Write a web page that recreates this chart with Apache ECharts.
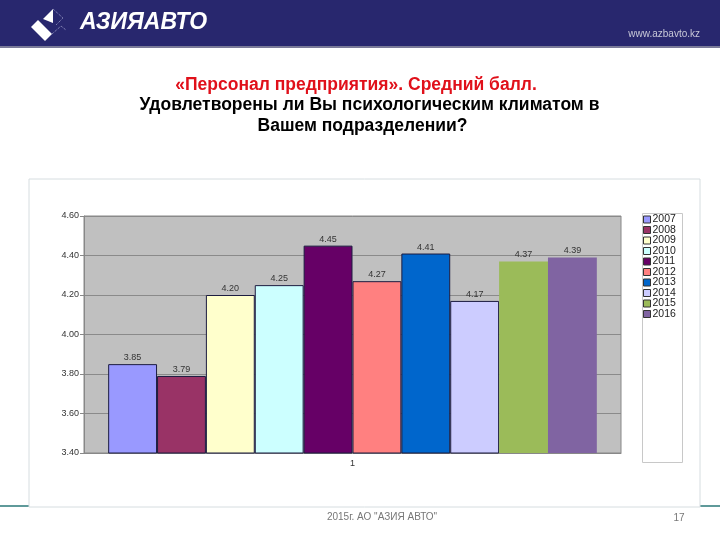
<!DOCTYPE html>
<html>
<head>
<meta charset="utf-8">
<script src="https://cdn.jsdelivr.net/npm/echarts@6/dist/echarts.min.js"></script>
<style>html,body{margin:0;padding:0;background:#fff}#c{width:720px;height:540px}</style>
</head>
<body>
<div id="c"></div>
<script>
var categories = ['1'];
var years = ['2007','2008','2009','2010','2011','2012','2013','2014','2015','2016'];
var values = [3.85, 3.79, 4.20, 4.25, 4.45, 4.27, 4.41, 4.17, 4.37, 4.39];
var colors = ['#9999ff','#993366','#ffffcc','#ccffff','#660066','#ff8080','#0066cc','#ccccff','#9bbb59','#8064a2'];
var bordered = [true,true,true,true,true,true,true,true,false,false];
var titleLines = ['«Персонал предприятия». Средний балл.','Удовлетворены ли Вы психологическим климатом в','Вашем подразделении?'];

var chart = echarts.init(document.getElementById('c'), null, {renderer:'canvas'});
var series = years.map(function(y, i){
  return {
    name: y, type: 'bar', data: [values[i]],
    barGap: '0%', barCategoryGap: '9%',
    itemStyle: {color: colors[i], borderColor: bordered[i] ? '#1c1c40' : colors[i], borderWidth: bordered[i] ? 1 : 0},
    label: {show: true, position: 'top', distance: 2, fontSize: 9, color: '#333', fontFamily: 'Liberation Sans',
      formatter: function(p){ return p.value.toFixed(2); }},
    z: 3
  };
});
var font = 'Liberation Sans';
chart.setOption({
  animation: false,
  graphic: [
    {type:'rect', shape:{x:0,y:505,width:720,height:2}, style:{fill:'#5f9a9a'}, z:-10},
    {type:'rect', shape:{x:29,y:179,width:671,height:328}, style:{fill:'#fff', stroke:'#d6dde0', lineWidth:1}, z:-5},
    {type:'rect', shape:{x:642.5,y:213.5,width:40,height:249}, style:{fill:'#fff', stroke:'#c8c8c8', lineWidth:1}, z:-4},
    {type:'rect', shape:{x:0,y:0,width:720,height:46}, style:{fill:'#28276e'}, z:-3},
    {type:'rect', shape:{x:0,y:46,width:720,height:2}, style:{fill:'#7a7a98'}, z:-3},
    {type:'polygon', shape:{points:[[43,19],[53,9],[53,23]]}, style:{fill:'#fff'}, z:-2},
    {type:'polygon', shape:{points:[[31,27],[38,20],[52,34],[45,41]]}, style:{fill:'#fff'}, z:-2},
    {type:'polyline', shape:{points:[[53,9],[63,18],[56,25]]}, style:{stroke:'#9c9cc8', lineWidth:1, lineDash:[1,1], fill:null}, z:-2},
    {type:'polyline', shape:{points:[[52,34],[61,26],[66,30]]}, style:{stroke:'#9c9cc8', lineWidth:1, lineDash:[1,1], fill:null}, z:-2},
    {type:'text', x:80, y:23, style:{text:'АЗИЯАВТО', fill:'#fff', font:'italic bold 23px "Liberation Sans"', textVerticalAlign:'middle'}, z:-2},
    {type:'text', x:700, y:34, style:{text:'www.azbavto.kz', fill:'#c8c8d8', font:'10px "Liberation Sans"', textAlign:'right', textVerticalAlign:'middle'}, z:-2},
    {type:'text', x:356, y:85, style:{text:titleLines[0], fill:'#e0101a', font:'bold 17.5px "Liberation Sans"', textAlign:'center', textVerticalAlign:'middle'}},
    {type:'text', x:369.5, y:105.5, style:{text:titleLines[1], fill:'#000', font:'bold 17.5px "Liberation Sans"', textAlign:'center', textVerticalAlign:'middle'}},
    {type:'text', x:362.5, y:126, style:{text:titleLines[2], fill:'#000', font:'bold 17.5px "Liberation Sans"', textAlign:'center', textVerticalAlign:'middle'}},
    {type:'text', x:382, y:517, style:{text:'2015г. АО "АЗИЯ АВТО"', fill:'#777', font:'10px "Liberation Sans"', textAlign:'center', textVerticalAlign:'middle'}},
    {type:'text', x:679, y:518, style:{text:'17', fill:'#777', font:'10px "Liberation Sans"', textAlign:'center', textVerticalAlign:'middle'}}
  ],
  legend: {
    orient: 'vertical', left: 643, top: 214, padding: 0, itemWidth: 7, itemHeight: 7, itemGap: -0.5,
    icon: 'rect', data: years,
    textStyle: {fontSize: 10.5, lineHeight: 10, color: '#222', fontFamily: font, padding: [0,0,0,-3]},
    itemStyle: {borderColor: '#333', borderWidth: 1}
  },
  grid: {left: 84, right: 99, top: 216, bottom: 87, show: true, backgroundColor: '#c0c0c0', borderColor: '#888', borderWidth: 1},
  xAxis: {
    type: 'category', data: categories,
    axisLine: {show: true, lineStyle: {color: '#888'}},
    axisTick: {show: false},
    axisLabel: {fontSize: 9, color: '#333', fontFamily: font, margin: 6}
  },
  yAxis: {
    type: 'value', min: 3.4, max: 4.6, interval: 0.2,
    axisLine: {show: true, lineStyle: {color: '#888'}},
    axisTick: {show: true, length: 4, lineStyle: {color: '#888'}},
    axisLabel: {fontSize: 9, color: '#333', fontFamily: font, margin: 5, formatter: function(v){ return v.toFixed(2); }},
    splitLine: {show: true, lineStyle: {color: '#8a8a8a', width: 1}}
  },
  series: series
});
</script>
</body>
</html>
